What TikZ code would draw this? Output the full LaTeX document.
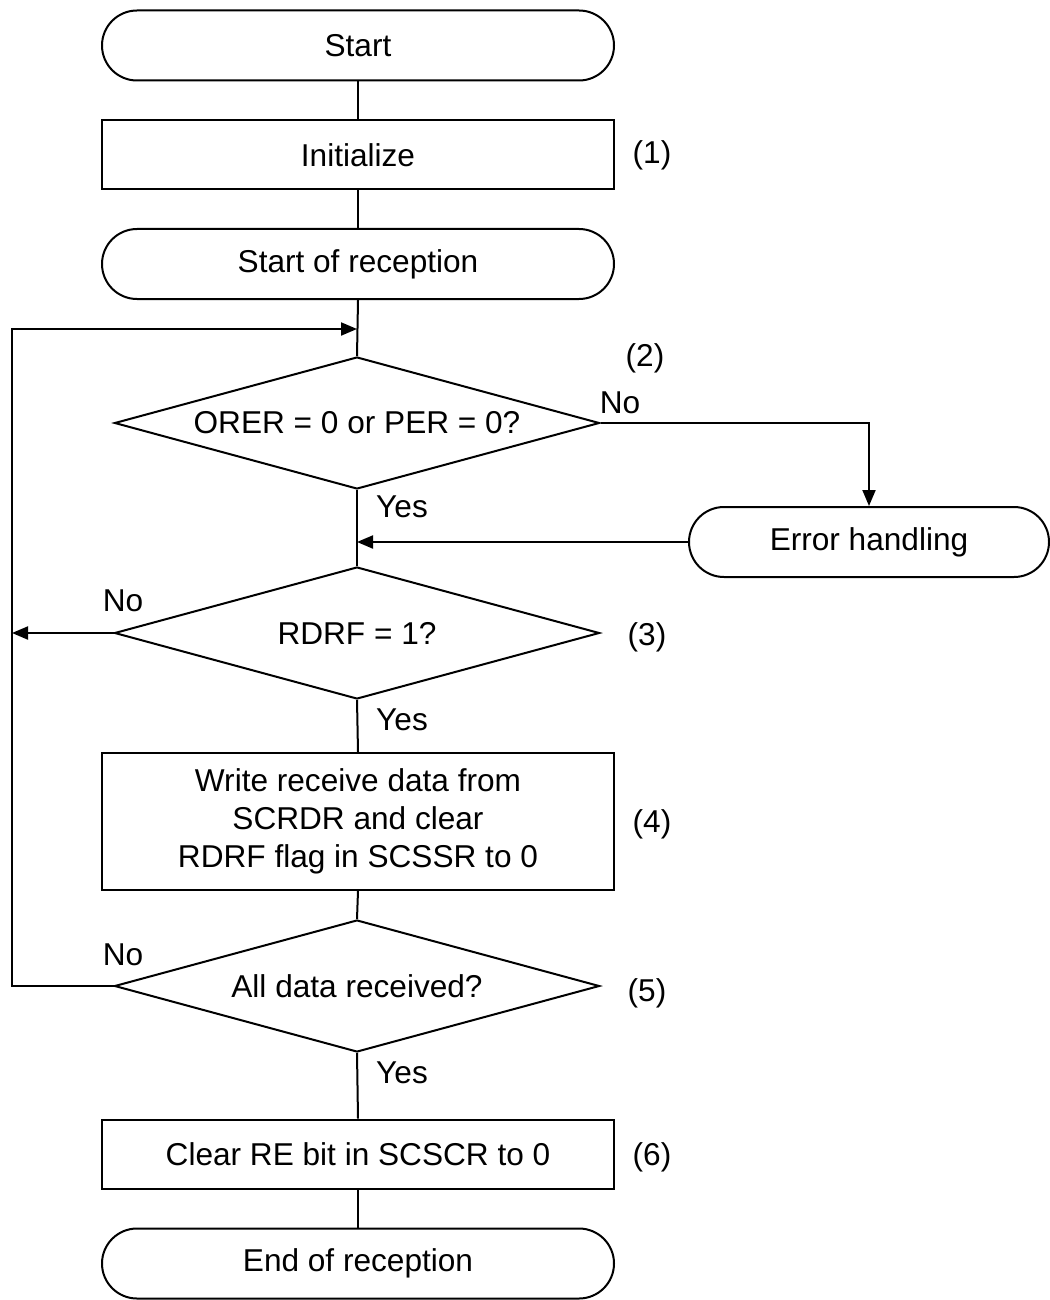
\documentclass[tikz,border=0pt]{standalone}
\usepackage{fontspec}
\setmainfont{Liberation Sans}
\usetikzlibrary{shapes.geometric,arrows.meta}
\begin{document}
\begin{tikzpicture}[x=0.5pt,y=-0.5pt,
  every node/.style={font=\fontsize{15.8}{19}\selectfont},
  term/.style={draw,line width=1pt,rounded corners=17.5pt,minimum width=256pt,minimum height=35pt,inner sep=0pt},
  proc/.style={draw,line width=1pt,minimum width=256pt,minimum height=34.5pt,inner sep=0pt,align=center},
  dec/.style={draw,line width=1pt,diamond,aspect=3.67,minimum width=242.5pt,minimum height=66pt,inner sep=0pt},
  lbl/.style={inner sep=0pt},
  conn/.style={line width=1pt},
  arr/.style={line width=1pt,-{Triangle[length=8pt,width=6.5pt]}}]
\useasboundingbox (0,0) rectangle (1049,1300);
\node[term] (start) at (358,45.5) {Start};
\node[proc] (init) at (358,155) {Initialize};
\node[term] (sor) at (358,264) {Start of reception};
\node[dec] (d1) at (357,423) {ORER = 0 or PER = 0?};
\node[term,minimum width=180pt] (err) at (869,542) {Error handling};
\node[dec] (d2) at (357,633) {RDRF = 1?};
\node[proc,minimum height=68.5pt] (b4) at (358,821.5) {Write receive data from\\SCRDR and clear\\RDRF flag in SCSSR to 0};
\node[dec] (d3) at (357,986) {All data received?};
\node[proc] (b6) at (358,1154) {Clear RE bit in SCSCR to 0};
\node[term] (eor) at (358,1263.5) {End of reception};

\node[lbl] (n1) at (652,155) {(1)};
\node[lbl] (n2) at (645,358) {(2)};
\node[lbl] (n3) at (647,637) {(3)};
\node[lbl] (n4) at (652,824) {(4)};
\node[lbl] (n5) at (647,993) {(5)};
\node[lbl] (n6) at (652,1157) {(6)};
\node[lbl] (no1) at (620,403) {No};
\node[lbl] (no2) at (123,601) {No};
\node[lbl] (no3) at (123,955) {No};
\node[lbl] (y1) at (402,507) {Yes};
\node[lbl] (y2) at (402,720) {Yes};
\node[lbl] (y3) at (402,1073) {Yes};

\coordinate (j1) at (357,329);
\coordinate (l1) at (12,329);
\coordinate (l2) at (12,633);

\draw[conn] (start.south) -- (init.north);
\draw[conn] (init.south) -- (sor.north);
\draw[conn] (sor.south) -- (d1.north);
\draw[conn] (d1.south) -- (d2.north);
\draw[conn] (d2.south) -- (b4.north);
\draw[conn] (b4.south) -- (d3.north);
\draw[conn] (d3.south) -- (b6.north);
\draw[conn] (b6.south) -- (eor.north);
\draw[arr] (d1.east) -| (err.north);
\draw[arr] (err.west) -- (err.west -| d1.south);
\draw[arr] (d2.west) -- (l2);
\draw[arr] (d3.west) -| (l1) -- (j1);
\end{tikzpicture}
\end{document}
